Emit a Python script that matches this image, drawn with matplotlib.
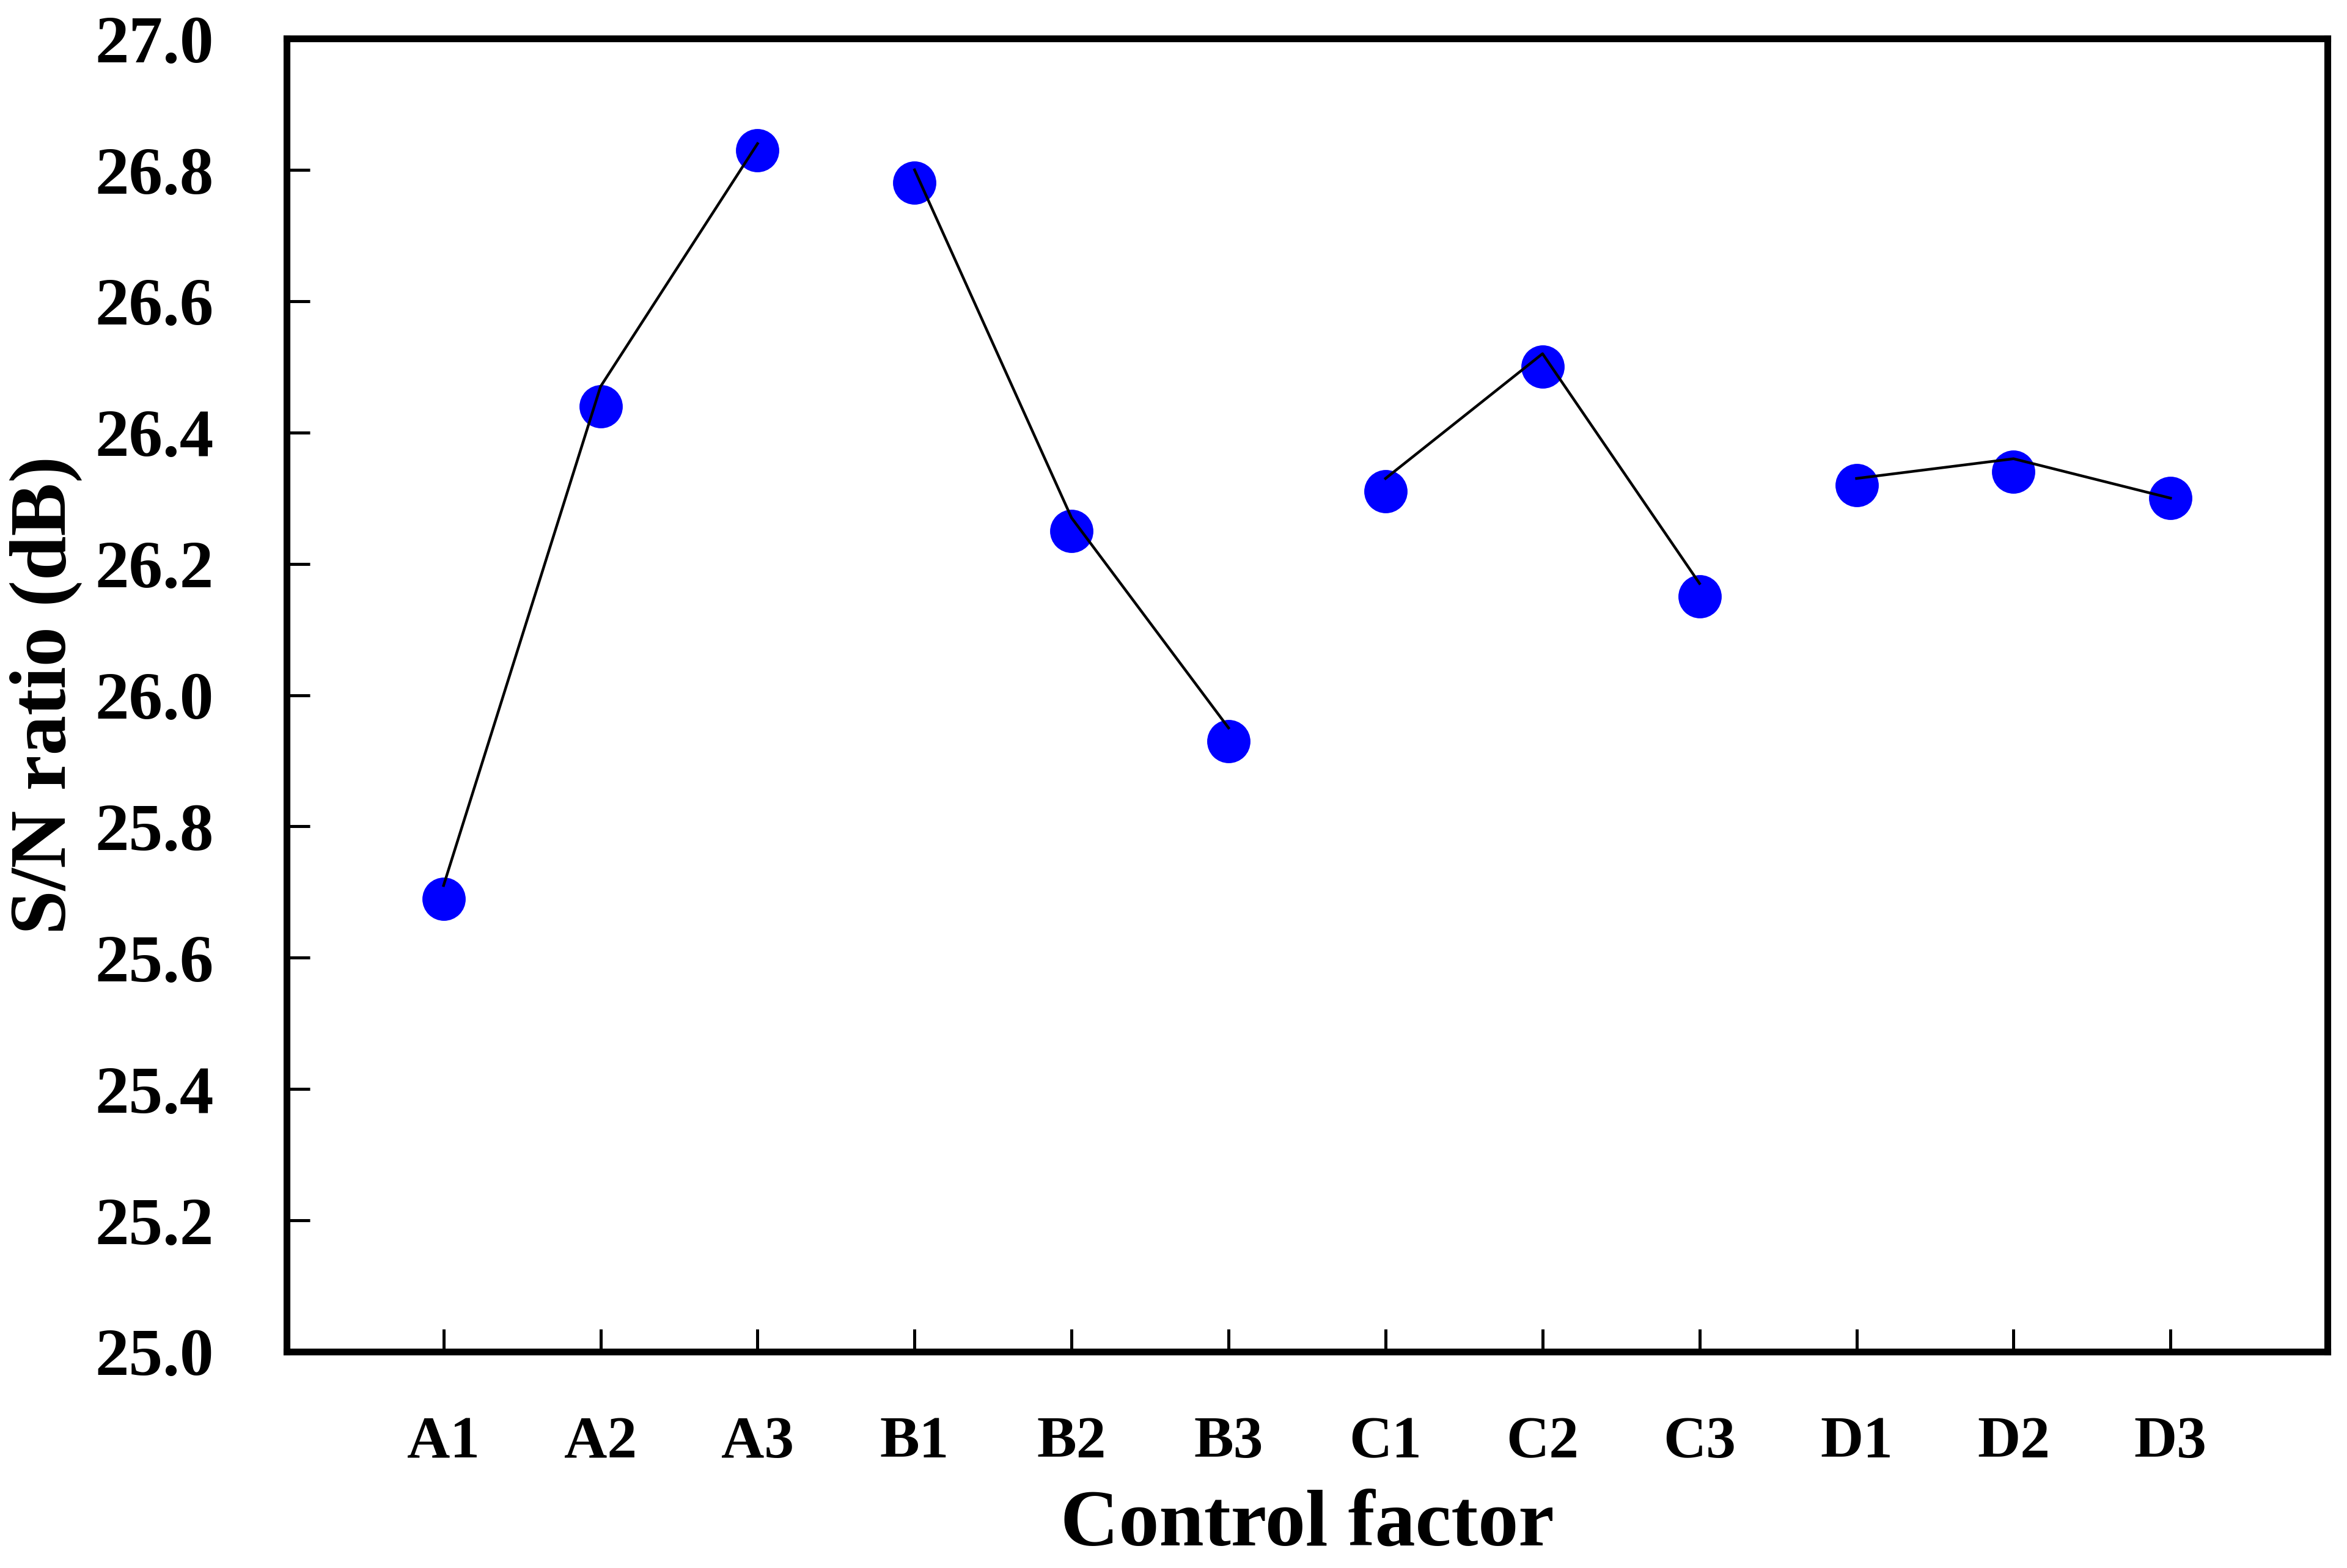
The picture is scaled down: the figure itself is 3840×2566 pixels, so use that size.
import numpy as np
import matplotlib
matplotlib.use('Agg')
import matplotlib.pyplot as plt
from matplotlib.ticker import FormatStrFormatter

# data
factors = ['A1', 'A2', 'A3', 'B1', 'B2', 'B3', 'C1', 'C2', 'C3', 'D1', 'D2', 'D3']
sn_points = [25.69, 26.44, 26.83, 26.78, 26.25, 25.93, 26.31, 26.50, 26.15, 26.32, 26.34, 26.30]
# the connecting lines sit slightly above the markers in the original
sn_lines = [25.71, 26.47, 26.84, 26.80, 26.27, 25.95, 26.33, 26.52, 26.17, 26.33, 26.36, 26.30]
groups = [(0, 3), (3, 6), (6, 9), (9, 12)]

plt.rcParams['font.family'] = ['Liberation Serif', 'DejaVu Serif']
plt.rcParams['font.weight'] = 'bold'

fig = plt.figure(figsize=(38.4, 25.66), dpi=100)
ax = fig.add_axes([0.1221, 0.138, 0.8696, 0.8374])

x = np.arange(1, len(factors) + 1)
ax.plot(x, sn_points, 'o', color='#0000ff', markersize=51, markeredgewidth=0, zorder=2)
for a, b in groups:
    ax.plot(x[a:b], sn_lines[a:b], '-', color='black', linewidth=3.2, zorder=3)

ax.set_xlim(0, 13)
ax.set_ylim(25.0, 27.0)
ax.set_xticks(x)
ax.set_xticklabels(factors)
ax.set_yticks(np.arange(25.0, 27.01, 0.2))
ax.yaxis.set_major_formatter(FormatStrFormatter('%.1f'))

for s in ax.spines.values():
    s.set_linewidth(8)
ax.tick_params(axis='y', direction='in', length=27, width=3.6, pad=86, labelsize=80,
               right=False)
ax.tick_params(axis='x', direction='in', length=27, width=3.6, pad=76, labelsize=70,
               top=False)
for lab in ax.get_xticklabels() + ax.get_yticklabels():
    lab.set_fontweight('bold')

ax.set_xlabel('Control factor', fontsize=95, fontweight='bold', labelpad=22)
ax.set_ylabel('S/N ratio (dB)', fontsize=94, fontweight='bold', labelpad=14)

fig.savefig('out.png', dpi=100, facecolor='white')
